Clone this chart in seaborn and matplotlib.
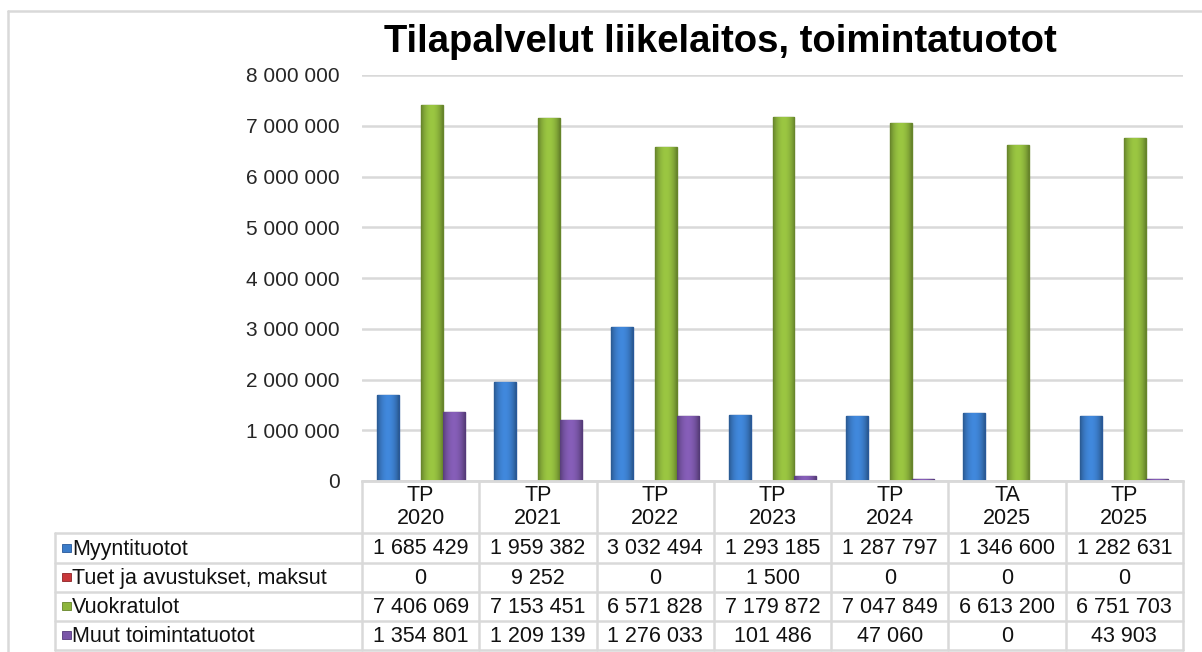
import numpy as np
import pandas as pd
import seaborn as sns
import matplotlib.pyplot as plt
from matplotlib.colors import to_rgb
from matplotlib.lines import Line2D
from matplotlib.patches import Rectangle

# values from the data table under the chart
categories = ["TP\n2020", "TP\n2021", "TP\n2022", "TP\n2023", "TP\n2024", "TA\n2025", "TP\n2025"]
series = ["Myyntituotot", "Tuet ja avustukset, maksut", "Vuokratulot", "Muut toimintatuotot"]
myyntituotot = [1685429, 1959382, 3032494, 1293185, 1287797, 1346600, 1282631]
tuet = [0, 9252, 0, 1500, 0, 0, 0]
vuokratulot = [7406069, 7153451, 6571828, 7179872, 7047849, 6613200, 6751703]
muut = [1354801, 1209139, 1276033, 101486, 47060, 0, 43903]
yticks = [0, 1000000, 2000000, 3000000, 4000000, 5000000, 6000000, 7000000, 8000000]

colors = ["#3B7CC9", "#C8373A", "#8DB53C", "#7A56A8"]
edges = ["#28589A", "#8E2326", "#66852A", "#55397A"]
grid_col = "#D9D9D9"

rows = [myyntituotot, tuet, vuokratulot, muut]
df = pd.DataFrame({
    "kausi": categories * 4,
    "sarja": [s for s in series for _ in categories],
    "arvo": myyntituotot + tuet + vuokratulot + muut,
})

sns.set_theme(style="white")
plt.rcParams["font.family"] = ["Liberation Sans", "DejaVu Sans"]

W, H = 1202, 652
fig = plt.figure(figsize=(W / 100, H / 100), dpi=100)
fig.patch.set_facecolor("white")

# plot area in pixels: x 362..1183, y 75..481
L, R, T, B = 362, 1183, 75, 481
ax = fig.add_axes([L / W, 1 - B / H, (R - L) / W, (B - T) / H])
sns.barplot(data=df, x="kausi", y="arvo", hue="sarja", order=categories,
            hue_order=series, palette=colors, width=0.75, saturation=1,
            legend=False, ax=ax)

# shaded look: darker sides, lighter middle
prof = np.linspace(-1, 1, 40)
shade = 0.72 + 0.38 * np.cos(prof * np.pi / 2) ** 0.8
for cont, base, ec in zip(ax.containers, colors, edges):
    rgb = np.array(to_rgb(base))
    grad = np.clip(rgb[None, :] * shade[:, None], 0, 1)[None, :, :]
    for bar in cont:
        bar.set_edgecolor(ec)
        bar.set_linewidth(1.0)
        h = bar.get_height()
        if h <= 0:
            continue
        x0, w = bar.get_x(), bar.get_width()
        im = ax.imshow(grad, extent=(x0, x0 + w, 0, h), aspect="auto",
                       interpolation="bilinear", zorder=bar.get_zorder() + 0.1)
        im.set_clip_path(bar)

ax.set_ylim(0, 8000000)
ax.set_xlim(-0.5, len(categories) - 0.5)
ax.set_yticks(yticks)
ax.set_yticklabels([f"{v:,}".replace(",", " ") for v in yticks], fontsize=15)
ax.tick_params(axis="y", length=0, pad=16)
ax.tick_params(axis="x", length=0, labelbottom=False)
ax.set_xlabel("")
ax.set_ylabel("")
ax.yaxis.grid(True, color=grid_col, lw=1.8)
ax.set_axisbelow(True)
for s in ["top", "right", "left"]:
    ax.spines[s].set_visible(False)
ax.spines["bottom"].set_color(grid_col)
ax.spines["bottom"].set_linewidth(1.8)

fig.text(720 / W, 1 - 42 / H, "Tilapalvelut liikelaitos, toimintatuotot",
         ha="center", va="center", fontsize=27.5, fontweight="bold", color="black")

# overlay in pixel coords for the data table and frame
ov = fig.add_axes([0, 0, 1, 1])
ov.set_xlim(0, W)
ov.set_ylim(H, 0)
ov.axis("off")
ov.patch.set_alpha(0)

def hline(x0, x1, y):
    ov.add_line(Line2D([x0, x1], [y, y], color=grid_col, lw=1.8))

def vline(x, y0, y1):
    ov.add_line(Line2D([x, x], [y0, y1], color=grid_col, lw=1.8))

# outer frame
hline(8, W, 11)
vline(8, 11, H)

colw = (R - L) / len(categories)
row_y = [533, 563, 592, 621, 650]
TL = 55
hline(L, R, B)
for y in row_y:
    hline(TL, R, y)
for i in range(len(categories) + 1):
    vline(L + i * colw, B, row_y[-1])
vline(TL, row_y[0], row_y[-1])

for i, c in enumerate(categories):
    ov.text(L + (i + 0.5) * colw, 507, c, ha="center", va="center",
            fontsize=15.5, linespacing=1.1, color="#111111")

for r, (name, vals) in enumerate(zip(series, rows)):
    yc = (row_y[r] + row_y[r + 1]) / 2
    ov.add_patch(Rectangle((62, yc - 4.5), 8.5, 8, facecolor=colors[r],
                           edgecolor=edges[r], lw=0.6))
    ov.text(72, yc + 1, name, ha="left", va="center", fontsize=15.5, color="#111111")
    for i, v in enumerate(vals):
        ov.text(L + (i + 0.5) * colw, yc + 1, f"{v:,}".replace(",", " "),
                ha="center", va="center", fontsize=15.5, color="#111111")

fig.savefig("out.png", dpi=100)
